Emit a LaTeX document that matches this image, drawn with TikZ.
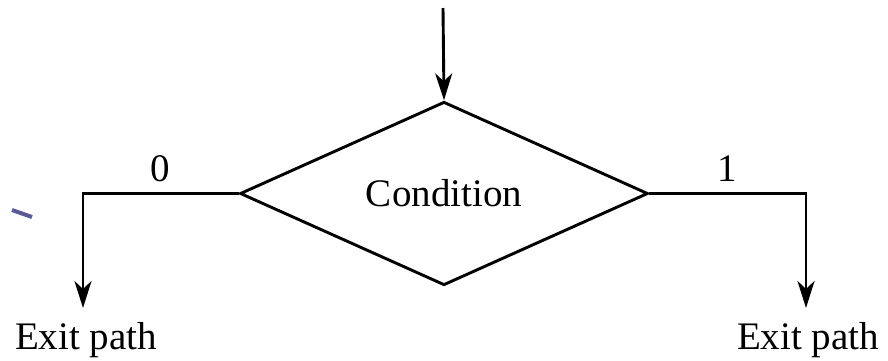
\documentclass[tikz,border=0pt]{standalone}
\usepackage{fontspec}
\setmainfont{Liberation Serif}
\usetikzlibrary{shapes.geometric,arrows.meta}
\begin{document}
\begin{tikzpicture}[x=1pt,y=-1pt,
  line/.style={line width=2.9pt},
  tip/.style={-{Stealth[length=27pt,width=17pt,inset=8pt]}},
  lbl/.style={font=\fontsize{39}{44}\selectfont, inner sep=0pt},
  cond/.style={diamond, draw, line width=2.9pt, minimum width=408pt, minimum height=177pt, inner sep=0pt, font=\fontsize{39}{44}\selectfont}]
\useasboundingbox (0,0) rectangle (888,360);
\node[cond] (c) at (444,193.5) {Condition};
\coordinate (top) at (443,8);
\coordinate (lc) at (83,193.5);
\coordinate (rc) at (806,193.5);
\coordinate (le) at (83,308);
\coordinate (re) at (806,308);
\draw[line, tip] (top) -- (c.north);
\draw[line, tip] (c.west) -- (lc) -- (le);
\draw[line, tip] (c.east) -- (rc) -- (re);
\node[lbl] (z) at (160,169) {0};
\node[lbl] (o) at (727,169) {1};
\node[lbl] (ex1) at (86,340) {Exit path};
\node[lbl] (ex2) at (808,340) {Exit path};
\draw[line width=4pt, color={rgb,255:red,90;green,90;blue,150}] (12,210) -- (32,217);
\end{tikzpicture}
\end{document}
